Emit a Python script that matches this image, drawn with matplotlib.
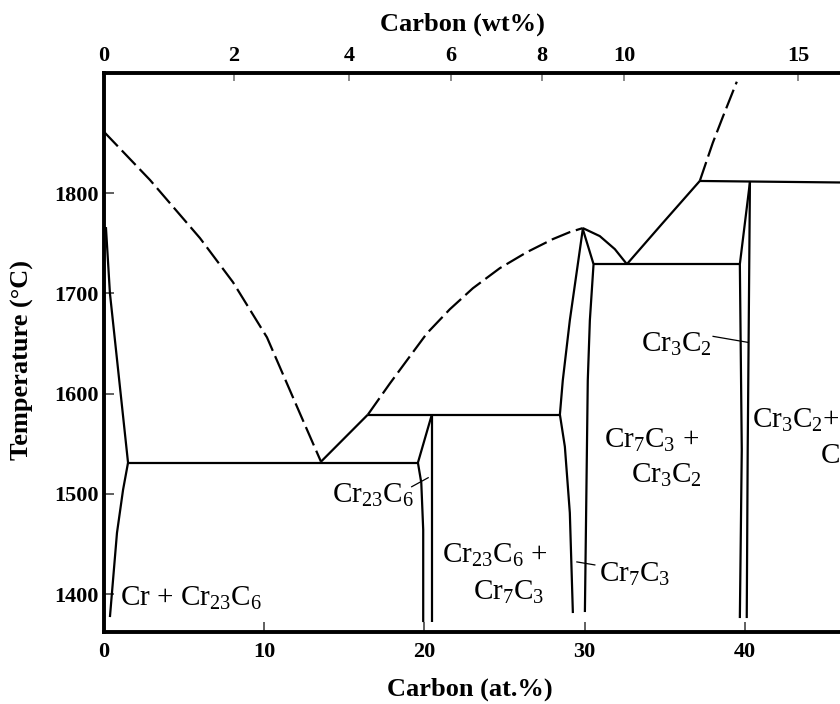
import numpy as np
import matplotlib
matplotlib.use("Agg")
import matplotlib.pyplot as plt

plt.rcParams["font.family"] = ["Liberation Serif", "DejaVu Serif"]
plt.rcParams["mathtext.default"] = "regular"

# ---- Cr–C phase boundaries (x: at.% C, y: temperature in °C) ----
# Cr-rich liquidus (estimated, dashed)
liq_cr_x = [0.00, 2.87, 5.99, 8.05, 10.17, 12.23, 13.54]
liq_cr_t = [1861, 1813, 1755, 1711, 1656, 1580, 1532]

# Cr23C6 liquidus between eutectic and peritectic
liq_23_x = [13.54, 16.47]
liq_23_t = [1532, 1579]

# Cr7C3 liquidus up to congruent maximum (estimated, dashed)
liq_7_x = [16.47, 17.84, 18.90, 20.15, 21.58, 23.02, 24.70, 26.39, 28.01, 29.07, 29.88]
liq_7_t = [1579, 1610, 1633, 1660, 1684, 1705, 1725, 1741, 1754, 1761, 1765]

# Cr7C3 liquidus on the carbon side, down to the eutectic
liq_7r_x = [29.88, 30.94, 31.88, 32.63]
liq_7r_t = [1765, 1757, 1744, 1729]

# Cr3C2 liquidus up to peritectic
liq_32_x = [32.63, 34.81, 37.18]
liq_32_t = [1729, 1769, 1812]

# Upper liquidus above the Cr3C2 peritectic (estimated, dashed)
liq_top_x = [37.18, 37.99, 38.62, 39.49]
liq_top_t = [1812, 1850, 1876, 1911]

# Horizontal invariants
eut1_x, eut1_t = [1.50, 19.59], [1531, 1531]
per1_x, per1_t = [16.47, 28.45], [1579, 1579]
eut2_x, eut2_t = [30.55, 39.68], [1729, 1729]
per2_x, per2_t = [37.18, 45.93], [1812, 1810.5]

# Cr solid solution: solidus and solvus
cr_sol_x = [0.12, 0.37, 1.50, 1.19, 0.81, 0.37]
cr_sol_t = [1766, 1700, 1531, 1504, 1461, 1377]

# Cr23C6 homogeneity range
c23_l_x = [20.46, 19.59, 19.80, 19.92, 19.92]
c23_l_t = [1579, 1531, 1511, 1464, 1372]
c23_r_x = [20.46, 20.46]
c23_r_t = [1579, 1372]

# Cr7C3 homogeneity range
c7_l_x = [29.88, 29.07, 28.63, 28.45, 28.76, 29.07, 29.26]
c7_l_t = [1764, 1673, 1613, 1579, 1547, 1481, 1381]
c7_r_x = [29.88, 30.55, 30.32, 30.19, 30.01]
c7_r_t = [1764, 1729, 1673, 1613, 1382]

# Cr3C2 homogeneity range
c32_l_x = [40.31, 39.68, 39.80, 39.68]
c32_l_t = [1811, 1729, 1544, 1376]
c32_r_x = [40.31, 40.17, 40.11]
c32_r_t = [1812, 1544, 1376]

# Tick values
at_ticks = [0, 10, 20, 30, 40]
wt_ticks = [0, 2, 4, 6, 8, 10, 15]
t_ticks = [1400, 1500, 1600, 1700, 1800]

M_C, M_CR = 12.011, 51.996


def at_to_wt(a):
    a = np.asarray(a, dtype=float)
    return 100 * a * M_C / (a * M_C + (100 - a) * M_CR)


def wt_to_at(w):
    w = np.asarray(w, dtype=float)
    return 100 * (w / M_C) / (w / M_C + (100 - w) / M_CR)


fig = plt.figure(figsize=(8.4, 7.04), dpi=100)
ax = fig.add_axes([104 / 840, 1 - 632 / 704, 736 / 840, (632 - 73) / 704])
ax.set_xlim(0, 45.93)
ax.set_ylim(1362.1, 1919.7)

lw = 1.6
solid = dict(color="black", lw=lw, solid_joinstyle="round", solid_capstyle="butt")
dashed = dict(color="black", lw=lw, linestyle=(0, (9, 2.6)), dash_capstyle="butt",
              dash_joinstyle="round")

ax.plot(liq_cr_x, liq_cr_t, **dashed)
ax.plot(liq_23_x, liq_23_t, **solid)
ax.plot(liq_7_x, liq_7_t, **dashed)
ax.plot(liq_7r_x, liq_7r_t, **solid)
ax.plot(liq_32_x, liq_32_t, **solid)
ax.plot(liq_top_x, liq_top_t, **dashed)
for xs, ts in [(eut1_x, eut1_t), (per1_x, per1_t), (eut2_x, eut2_t), (per2_x, per2_t),
               (cr_sol_x, cr_sol_t), (c23_l_x, c23_l_t), (c23_r_x, c23_r_t),
               (c7_l_x, c7_l_t), (c7_r_x, c7_r_t), (c32_l_x, c32_l_t), (c32_r_x, c32_r_t)]:
    ax.plot(xs, ts, **solid)

# Phase-field labels
lab = dict(fontsize=21, color="black", va="baseline", ha="left", clip_on=False)
ax.text(1.0, 1388, r"Cr + Cr$_{23}$C$_6$", **lab)
ax.text(14.2, 1491, r"Cr$_{23}$C$_6$", **lab)
ax.text(21.1, 1431, r"Cr$_{23}$C$_6$ +", **lab)
ax.text(23.0, 1394, r"Cr$_7$C$_3$", **lab)
ax.text(30.88, 1412, r"Cr$_7$C$_3$", **lab)
ax.text(31.2, 1545.5, r"Cr$_7$C$_3$ +", **lab)
ax.text(32.9, 1510.5, r"Cr$_3$C$_2$", **lab)
ax.text(33.5, 1641.5, r"Cr$_3$C$_2$", **lab)
ax.text(40.42, 1565.5, r"Cr$_3$C$_2$+", **lab)
ax.text(44.75, 1530.5, "C", **lab)

# Leader lines from labels to narrow single-phase fields
lead = dict(color="black", lw=0.9)
ax.plot([19.20, 20.23], [1507, 1516], **lead)
ax.plot([29.51, 30.63], [1432, 1429], **lead)
ax.plot([38.01, 40.19], [1657, 1651], **lead)

# Axes styling
spine_lw = 2.8
for side in ["left", "bottom", "top"]:
    ax.spines[side].set_linewidth(spine_lw)
ax.spines["right"].set_visible(False)
ax.spines["top"].set_visible(False)

ax.set_xticks(at_ticks)
ax.set_yticks(t_ticks)
ax.tick_params(axis="x", direction="in", length=7, width=1.2, color="#444444",
               pad=7, labelsize=16)
ax.tick_params(axis="y", direction="in", length=7, width=1.2, color="#444444",
               pad=4, labelsize=16)
for lbl in ax.get_xticklabels() + ax.get_yticklabels():
    lbl.set_fontweight("bold")

sec = ax.secondary_xaxis("top", functions=(at_to_wt, wt_to_at))
sec.set_xticks(wt_ticks)
sec.spines["top"].set_linewidth(spine_lw)
sec.tick_params(axis="x", direction="in", length=6, width=1.2, color="#777777",
                pad=5, labelsize=16)
for lbl in sec.get_xticklabels():
    lbl.set_fontweight("bold")

fig.text(462 / 840, 1 - 24 / 704, "Carbon (wt%)", fontsize=19, fontweight="bold",
         ha="center", va="center")
fig.text(470 / 840, 1 - 689 / 704, "Carbon (at.%)", fontsize=19, fontweight="bold",
         ha="center", va="center")
fig.text(22 / 840, 1 - 360 / 704, "Temperature (°C)", fontsize=19, fontweight="bold",
         ha="center", va="center", rotation=90)

fig.savefig("out.png", dpi=100, facecolor="white")
